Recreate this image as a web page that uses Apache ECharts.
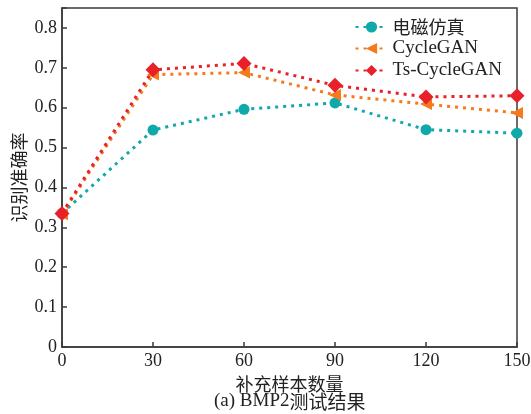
<!DOCTYPE html>
<html>
<head>
<meta charset="utf-8">
<script src="https://cdn.jsdelivr.net/npm/echarts@6/dist/echarts.min.js"></script>
<style>
  html, body { margin: 0; padding: 0; background: #fff; }
  #chart { width: 531px; height: 414px; }
</style>
</head>
<body>
<div id="chart"></div>
<script>
// Supplementary sample counts on the x axis
const sampleCounts = [0, 30, 60, 90, 120, 150];
// Recognition accuracy for each training-data source
const emSimulation = [0.335, 0.544, 0.596, 0.612, 0.545, 0.536];
const cycleGAN = [0.333, 0.683, 0.688, 0.632, 0.609, 0.587];
const tsCycleGAN = [0.335, 0.695, 0.711, 0.656, 0.627, 0.630];
const seriesNames = ['电磁仿真', 'CycleGAN', 'Ts-CycleGAN'];
const yTicks = [0, 0.1, 0.2, 0.3, 0.4, 0.5, 0.6, 0.7, 0.8];

const serif = '"Liberation Serif", "Noto Sans CJK SC", serif';
const cjk = '"Noto Sans CJK SC", "Liberation Serif", serif';
const axisColor = '#3a3a3a';
const textColor = '#222';

function pairs(vals) {
  return sampleCounts.map((x, i) => [x, vals[i]]);
}

function lineSeries(name, vals, color, symbol, size, z, rotate) {
  return {
    name: name,
    type: 'line',
    data: pairs(vals),
    symbol: symbol,
    symbolSize: size,
    symbolRotate: rotate || 0,
    symbolKeepAspect: true,
    z: z,
    itemStyle: { color: color },
    lineStyle: { color: color, width: 3, type: [3, 5], cap: 'butt' },
    emphasis: { disabled: true },
    animation: false
  };
}

const chart = echarts.init(document.getElementById('chart'), null, { renderer: 'canvas' });
chart.setOption({
  backgroundColor: '#fff',
  animation: false,
  grid: {
    left: 62, right: 14, top: 8, bottom: 67,
    outerBoundsMode: 'none',
    containLabel: false,
    show: true, borderColor: axisColor, borderWidth: 1.5, backgroundColor: 'transparent'
  },
  legend: {
    right: 24,
    top: 13,
    orient: 'vertical',
    itemGap: 3,
    itemWidth: 32,
    itemHeight: 14,
    textStyle: { fontFamily: cjk, fontSize: 18, color: textColor },
    data: [
      { name: seriesNames[0], textStyle: { fontFamily: cjk } },
      { name: seriesNames[1], textStyle: { fontFamily: serif, fontSize: 19 } },
      { name: seriesNames[2], textStyle: { fontFamily: serif, fontSize: 19 } }
    ]
  },
  xAxis: {
    type: 'value',
    min: 0,
    max: 150,
    interval: 30,
    name: '补充样本数量',
    nameLocation: 'middle',
    nameGap: 22,
    nameTextStyle: { fontFamily: cjk, fontSize: 18, color: textColor },
    axisLine: { lineStyle: { color: axisColor, width: 1.5 } },
    axisTick: { inside: true, length: 5, lineStyle: { color: axisColor, width: 1.5 } },
    axisLabel: { fontFamily: serif, fontSize: 18, color: textColor, margin: 5 },
    splitLine: { show: false }
  },
  yAxis: {
    type: 'value',
    min: 0,
    max: 0.85,
    interval: 0.1,
    name: '识别准确率',
    nameLocation: 'middle',
    nameGap: 34,
    nameMoveOverlap: false,
    nameRotate: 90,
    nameTextStyle: { fontFamily: cjk, fontSize: 18, color: textColor },
    axisLine: { lineStyle: { color: axisColor, width: 1.5 } },
    axisTick: { inside: true, length: 5, lineStyle: { color: axisColor, width: 1.5 } },
    axisLabel: {
      fontFamily: serif, fontSize: 18, color: textColor, margin: 5,
      formatter: v => (yTicks.some(t => Math.abs(t - v) < 1e-9) ? String(Math.round(v * 10) / 10) : '')
    },
    splitLine: { show: false }
  },
  series: [
    lineSeries(seriesNames[0], emSimulation, '#10a9aa', 'circle', 11, 3),
    // left-pointing triangles
    lineSeries(seriesNames[1], cycleGAN, '#f47a1c', 'triangle', 12, 4, 90),
    lineSeries(seriesNames[2], tsCycleGAN, '#e8202a', 'diamond', 15, 5)
  ],
  graphic: [{
    type: 'text',
    left: 214,
    top: 392,
    style: {
      text: '{a|(a) BMP2}{b|测试结果}',
      rich: {
        a: { fontFamily: serif, fontSize: 19, fill: textColor },
        b: { fontFamily: cjk, fontSize: 19, fill: textColor }
      }
    }
  }]
});
</script>
</body>
</html>
